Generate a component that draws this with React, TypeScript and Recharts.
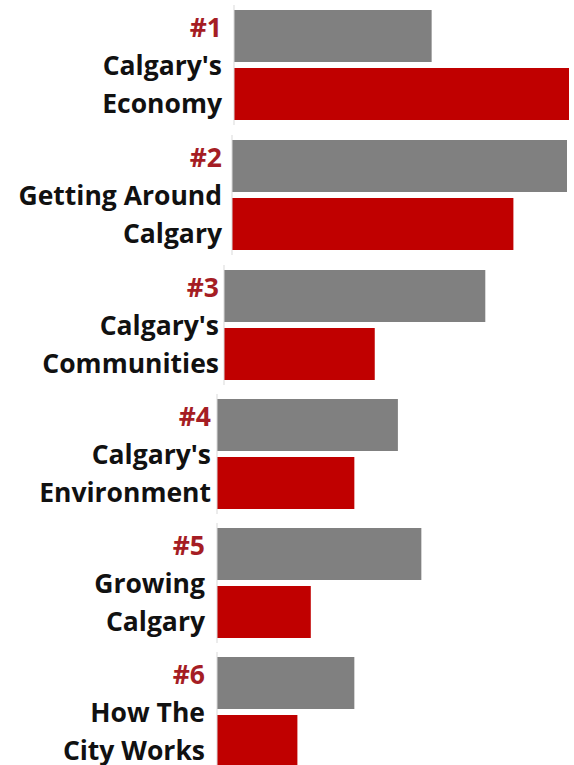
import React from "react";
import { BarChart, Bar, XAxis, YAxis } from "recharts";

// ---- data ----
const ranks = ["#1", "#2", "#3", "#4", "#5", "#6"];
const nameLine1 = ["Calgary's", "Getting Around", "Calgary's", "Calgary's", "Growing", "How The"];
const nameLine2 = ["Economy", "Calgary", "Communities", "Environment", "Calgary", "City Works"];
const grayValues = [59, 100, 78, 54, 61, 41];
const redValues = [100, 84, 45, 41, 28, 24];

// ---- layout (not data) ----
const axisLeft = [234, 232, 224, 217, 217, 217];
const labelRight = [222, 222, 219, 211, 205, 205];
const groupTop = [0, 130, 260, 389, 518, 647];
const PLOT_W = 335;
const GROUP_H = 130;

const GRAY = "#808080";
const RED = "#c00000";
const RANK_RED = "#a51d24";
const FONT = "'Open Sans', Lato, sans-serif";

function makeTick(i: number) {
  return (props: any) => {
    const { y } = props;
    const tx = labelRight[i];
    const common = {
      x: tx,
      textAnchor: "end" as const,
      fontFamily: FONT,
      fontWeight: 700,
      fontSize: 26.5,
    };
    return (
      <g>
        <text {...common} y={y - 28} fill={RANK_RED}>{ranks[i]}</text>
        <text {...common} y={y + 10} fill="#111">{nameLine1[i]}</text>
        <text {...common} y={y + 48} fill="#111">{nameLine2[i]}</text>
      </g>
    );
  };
}

function Group({ i }: { i: number }) {
  const data = [
    {
      name: `${ranks[i]} ${nameLine1[i]} ${nameLine2[i]}`,
      gray: grayValues[i],
      red: redValues[i],
    },
  ];
  return (
    <div style={{ position: "absolute", left: 0, top: groupTop[i] }}>
      <BarChart
        width={axisLeft[i] + PLOT_W + 5}
        height={GROUP_H}
        data={data}
        layout="vertical"
        margin={{ top: 5, right: 5, bottom: 5, left: 0 }}
        barGap={6}
      >
        <XAxis type="number" domain={[0, 100]} hide />
        <YAxis
          type="category"
          dataKey="name"
          width={axisLeft[i]}
          axisLine={{ stroke: "#d9d9d9", strokeWidth: 1 }}
          tickLine={false}
          tick={makeTick(i)}
          interval={0}
        />
        <Bar dataKey="gray" fill={GRAY} barSize={52} isAnimationActive={false} />
        <Bar dataKey="red" fill={RED} barSize={52} isAnimationActive={false} />
      </BarChart>
    </div>
  );
}

export default function App() {
  return (
    <div
      style={{
        position: "absolute",
        left: 0,
        top: 0,
        width: 574,
        height: 765,
        overflow: "hidden",
        background: "#fff",
      }}
    >
      {ranks.map((_, i) => (
        <Group key={i} i={i} />
      ))}
    </div>
  );
}
